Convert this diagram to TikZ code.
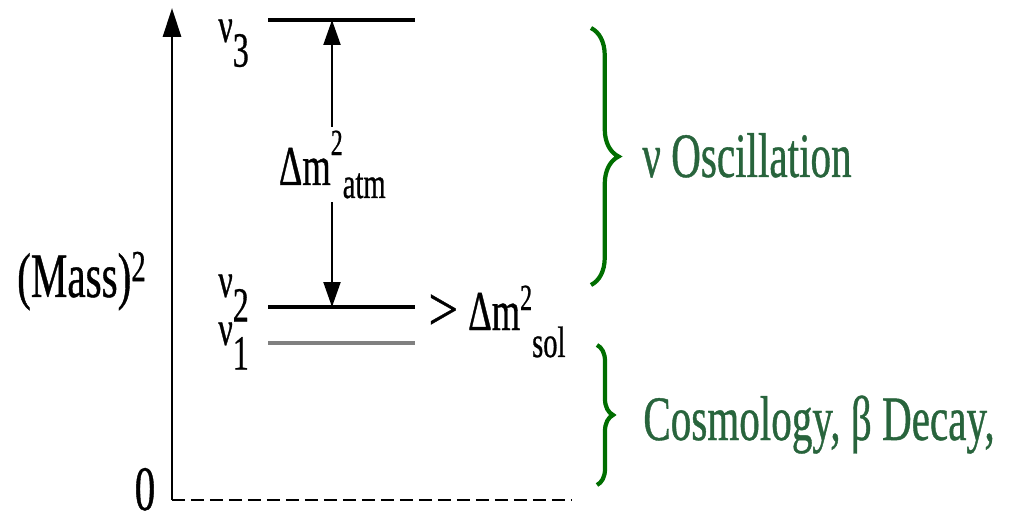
\documentclass[tikz,border=0pt]{standalone}
\usepackage{fontspec}
\setmainfont{Liberation Serif}[FakeStretch=0.65, FakeBold=0.6]
\usetikzlibrary{arrows.meta,decorations.pathreplacing}
\definecolor{bracegreen}{RGB}{0,110,0}
\definecolor{labelgreen}{RGB}{40,100,60}
\newcommand{\nulab}[1]{ν\raisebox{-0.5em}{#1}}
\newcommand{\dmsq}[4]{Δm\raisebox{#3}{\fontsize{21}{21}\selectfont 2}\raisebox{#4}{\fontsize{25}{25}\selectfont #2}}

\begin{document}
\begin{tikzpicture}[x=0.02cm, y=0.02cm,
    lbl/.style={inner sep=0pt, font=\fontsize{36}{40}\selectfont},
    nu/.style={inner sep=0pt, font=\fontsize{28}{32}\selectfont},
    dm/.style={inner sep=0pt, font=\fontsize{32}{36}\selectfont},
    grn/.style={lbl, text=labelgreen},
    level/.style={line width=2.5pt},
    axis/.style={line width=1.7pt, -{Triangle[length=0.58cm,width=0.36cm]}},
    gap/.style={line width=1.2pt, {Triangle[length=0.5cm,width=0.34cm]}-{Triangle[length=0.5cm,width=0.34cm]}},
    zero/.style={line width=1.6pt, dash pattern=on 0.26cm off 0.12cm},
    brc/.style={decorate, bracegreen, line width=2.4pt}
]
\clip (0,0) rectangle (1014,521);

% axis and zero line
\coordinate (origin) at (172,21);
\coordinate (top) at (172,513);
\coordinate (dashend) at (572,21);
\draw[zero] (origin) -- (dashend);
\draw[axis] (origin) -- (top);
\node[lbl, anchor=base] (zeroL) at (145,11) {0};
\node[lbl, anchor=base east] (mass) at (147,224) {(Mass)\textsuperscript{2}};

% mass levels
\coordinate (n3l) at (268,501); \coordinate (n3r) at (415,501);
\coordinate (n2l) at (268,214); \coordinate (n2r) at (415,214);
\coordinate (n1l) at (268,178); \coordinate (n1r) at (415,178);
\draw[level] (n3l) -- (n3r);
\draw[level] (n2l) -- (n2r);
\draw[level, gray] (n1l) -- (n1r);
\node[nu, anchor=base west] (nu3) at (218,479) {\nulab{3}};
\node[nu, anchor=base west] (nu2) at (218,224) {\nulab{2}};
\node[nu, anchor=base west] (nu1) at (218,176) {\nulab{1}};

% splittings
\coordinate (a3) at (332,501);
\coordinate (a2) at (332,214);
\draw[gap] (a2) -- (a3);
\node[dm, inner sep=2pt, fill=white, anchor=base west] (atm) at (275,336) {\dmsq{2}{atm}{0.6cm}{-0.26cm}};
\node[dm, anchor=base west] (sol) at (428,191) {\scalebox{1.45}[1.1]{>}\kern0.2cm\dmsq{2}{sol}{0.4cm}{-0.54cm}};

% what each part is probed by
\draw[brc, decoration={brace, amplitude=0.55cm}] (591,493) -- (591,236);
\draw[brc, decoration={brace, amplitude=0.32cm}] (597,176) -- (597,36);
\node[grn, anchor=base west] (osc) at (642,344) {ν Oscillation};
\node[grn, anchor=base west] (cosmo) at (643,81) {Cosmology, β Decay,};
\end{tikzpicture}
\end{document}
